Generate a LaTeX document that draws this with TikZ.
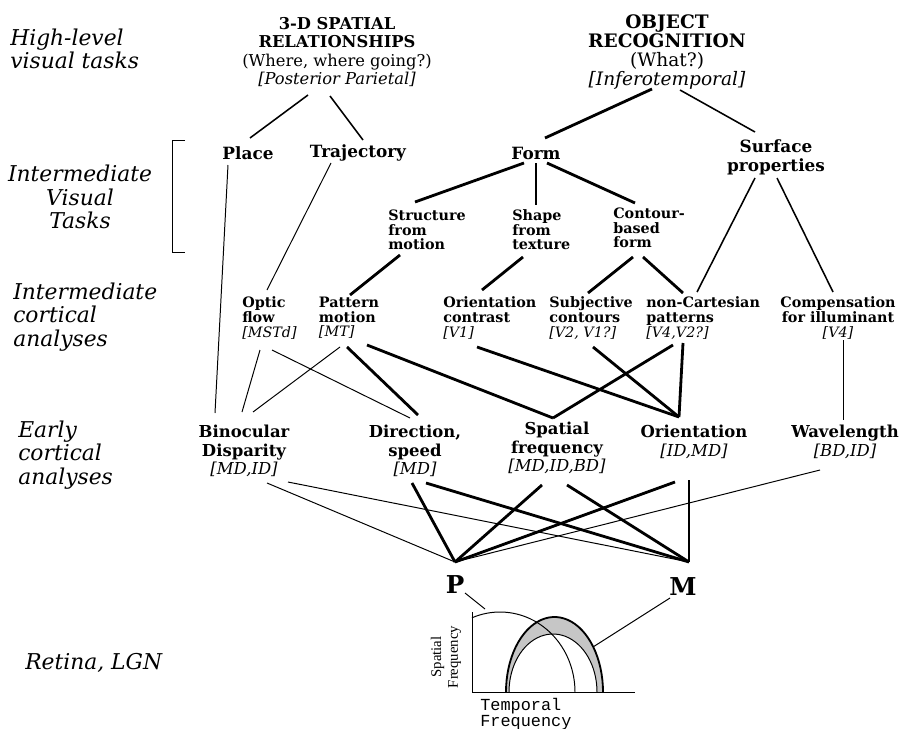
\documentclass[tikz,border=0pt]{standalone}
\usepackage{fontspec}
\setmainfont{DejaVu Serif}
\newfontfamily\courfont{Liberation Mono}
\newfontfamily\timesfont{Liberation Serif}
\usetikzlibrary{calc}
\newcommand\area[1]{{\mdseries\itshape[#1]}}

\begin{document}
\begin{tikzpicture}[x=0.025cm, y=-0.025cm,
	every node/.style={inner sep=0pt},
	side/.style={font=\fontsize{15.5}{16.5}\selectfont\itshape, align=left},
	task/.style={font=\fontsize{12}{13.5}\selectfont\bfseries, align=center},
	mid/.style={font=\fontsize{10.2}{10.4}\selectfont\bfseries, align=left},
	early/.style={font=\fontsize{11.7}{13.2}\selectfont\bfseries, align=center},
	thk/.style={line width=2pt},
	med/.style={line width=1.1pt},
	thn/.style={line width=0.7pt}]
	\useasboundingbox (0,0) rectangle (900,729);
	% level names
	\node[side, anchor=west] (hlv) at (10,49) {High-level\\visual tasks};
	\node[side, align=center] (ivt) at (80,197) {Intermediate\\Visual\\Tasks};
	\node[side, anchor=west] (ica) at (13,317) {Intermediate\\cortical\\analyses};
	\node[side, anchor=west] (eca) at (18,455) {Early\\cortical\\analyses};
	\node[side, anchor=west] (rlgn) at (25,663) {Retina, LGN};
	\draw[thn] (185,140) -- (172,140) -- (172,252) -- (185,252);
	% high-level tasks
	\node[task, font=\fontsize{11.6}{13.2}\selectfont\bfseries] (spatial) at (337,52) {3-D SPATIAL\\RELATIONSHIPS\\{\mdseries(Where, where going?)}\\\area{Posterior Parietal}};
	\node[task, font=\fontsize{13.2}{13.6}\selectfont\bfseries] (object) at (667,52) {OBJECT\\RECOGNITION\\{\mdseries(What?)}\\\area{Inferotemporal}};
	% intermediate tasks
	\node[task] (place) at (248,153) {Place};
	\node[task] (traj) at (358,153) {Trajectory};
	\node[task] (form) at (536,153) {Form};
	\node[task] (surf) at (776,157) {Surface\\properties};
	\node[mid, anchor=west] (sfm) at (388,230) {Structure\\from\\motion};
	\node[mid, anchor=west] (sft) at (512,230) {Shape\\from\\texture};
	\node[mid, anchor=west] (cbf) at (613,228) {Contour-\\based\\form};
	% intermediate cortical
	\node[mid, anchor=west] (optic) at (242,318) {Optic\\flow\\\area{MSTd}};
	\node[mid] (pattern) at (349,318) {Pattern\\motion\\\area{MT}};
	\node[mid, anchor=west] (orcon) at (443,318) {Orientation\\contrast\\\area{V1}};
	\node[mid, anchor=west] (subj) at (549,318) {Subjective\\contours\\\area{V2, V1?}};
	\node[mid, anchor=west] (noncart) at (646,318) {non-Cartesian\\patterns\\\area{V4,V2?}};
	\node[mid, align=center] (comp) at (838,318) {Compensation\\for illuminant\\\area{V4}};
	% early cortical
	\node[early] (binoc) at (244,451) {Binocular\\Disparity\\\area{MD,ID}};
	\node[early] (dir) at (415,451) {Direction,\\speed\\\area{MD}};
	\node[early] (spf) at (557,448) {Spatial\\frequency\\\area{MD,ID,BD}};
	\node[early] (ori) at (694,442) {Orientation\\\area{ID,MD}};
	\node[early] (wave) at (845,442) {Wavelength\\\area{BD,ID}};
	% retina
	\node[font=\fontsize{17.5}{17.5}\selectfont\bfseries] (p) at (455,585) {P};
	\node[font=\fontsize{17.5}{17.5}\selectfont\bfseries] (m) at (683,587) {M};

	\draw[med] ($(spatial)+(-29,43)$) -- ($(place)+(2,-15)$);
	\draw[med] ($(spatial)+(-7,44)$) -- ($(traj)+(5,-13)$);
	\draw[thk] ($(object)+(-15,37)$) -- ($(form)+(9,-15)$);
	\draw[med] ($(object)+(13,38)$) -- ($(surf)+(-21,-25)$);
	\draw[thk] ($(form)+(-12,10)$) -- ($(sfm.west)+(27,-28)$);
	\draw[thk] ($(form)+(0,10)$) -- ($(sft.west)+(24,-25)$);
	\draw[thk] ($(form)+(11,10)$) -- ($(cbf.west)+(22,-25)$);
	\draw[med] ($(surf)+(-21,21)$) -- ($(noncart.west)+(51,-26)$);
	\draw[med] ($(surf)+(1,21)$) -- ($(comp)+(-5,-26)$);
	\draw[thn] ($(traj)+(-27,10)$) -- ($(optic.west)+(25,-28)$);
	\draw[thn] ($(place)+(-20,12)$) -- ($(binoc)+(-29,-38)$);
	\draw[thk] ($(sfm.west)+(12,25)$) -- ($(pattern)+(1,-23)$);
	\draw[thk] ($(sft.west)+(11,27)$) -- ($(orcon.west)+(39,-28)$);
	\draw[thk] ($(cbf.west)+(20,29)$) -- ($(subj.west)+(39,-25)$);
	\draw[thk] ($(cbf.west)+(30,29)$) -- ($(noncart.west)+(37,-25)$);

	\draw[thn] ($(optic.west)+(18,32)$) -- ($(binoc)+(-2,-39)$);
	\draw[thn] ($(optic.west)+(30,32)$) -- ($(dir)+(-5,-33)$);
	\draw[thn] ($(pattern)+(-9,29)$) -- ($(binoc)+(9,-39)$);
	\draw[thk] ($(pattern)+(-2,29)$) -- ($(dir)+(3,-36)$);
	\draw[thk] ($(pattern)+(18,27)$) -- ($(spf)+(-4,-30)$);
	\draw[thk] ($(orcon.west)+(34,29)$) -- ($(ori)+(-15,-25)$);
	\draw[thk] ($(subj.west)+(44,29)$) -- ($(ori)+(-15,-25)$);
	\draw[thk] ($(noncart.west)+(27,27)$) -- ($(spf)+(-4,-30)$);
	\draw[thk] ($(noncart.west)+(37,25)$) -- ($(ori)+(-15,-25)$);
	\draw[thn] ($(comp)+(5,22)$) -- ($(wave)+(-2,-22)$);

	\draw[thn] ($(binoc)+(23,32)$) -- ($(p)+(0,-23)$);
	\draw[thn] ($(binoc)+(44,31)$) -- ($(m)+(6,-25)$);
	\draw[thn] ($(wave)+(-25,28)$) -- ($(p)+(0,-23)$);
	\foreach \n/\dx/\dy in {dir/-3/32, spf/-15/37, ori/-19/40}
	\draw[thk] ($(\n)+(\dx,\dy)$) -- ($(p)+(0,-23)$);
	\foreach \n/\dx/\dy in {dir/11/32, spf/10/37, ori/-5/38}
	\draw[thk] ($(\n)+(\dx,\dy)$) -- ($(m)+(6,-25)$);

	% response plot
	\fill[gray!45] plot[domain=180:0, samples=40] ({554.5+48.5*cos(\x)}, {692-75*sin(\x)})
		-- plot[domain=0:180, samples=40] ({553+44*cos(\x)}, {692-58*sin(\x)}) -- cycle;
	\draw[line width=1.3pt] plot[domain=180:0, samples=40] ({554.5+48.5*cos(\x)}, {692-75*sin(\x)});
	\draw[thn] plot[domain=180:0, samples=40] ({553+44*cos(\x)}, {692-58*sin(\x)});
	\draw[thn] plot[domain=112:0, samples=40] ({500+75*cos(\x)}, {692-80*sin(\x)});
	\draw[thn] (472,612) -- (472,692) -- (635,692);
	\node[rotate=90, font=\timesfont\fontsize{10.5}{12}\selectfont, align=center] (sfax) at (446,657) {Spatial\\Frequency};
	\node[font=\courfont\fontsize{12}{9.8}\selectfont, align=left, anchor=north west] (tfax) at (480,698) {Temporal\\Frequency};
	\coordinate (ptop) at (485,609);
	\coordinate (mside) at (593,647);
	\draw[thn] ($(p)+(10,8)$) -- (ptop);
	\draw[thn] ($(m)+(-13,11)$) -- (mside);
\end{tikzpicture}
\end{document}
